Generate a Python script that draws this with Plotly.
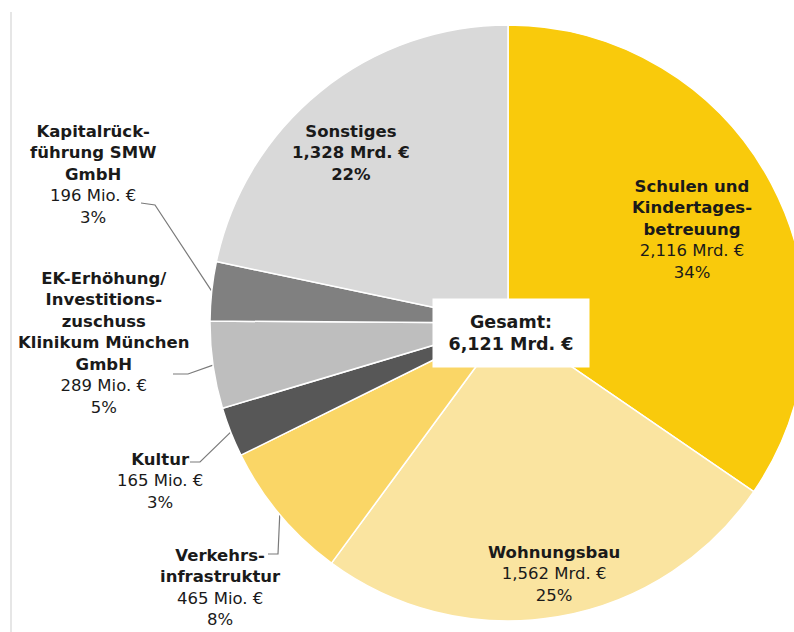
import math
import plotly.graph_objects as go

# ---------------- data ----------------
labels = ["Schulen und Kindertagesbetreuung", "Wohnungsbau", "Verkehrsinfrastruktur",
          "Kultur", "EK-Erhöhung/Investitionszuschuss Klinikum München GmbH",
          "Kapitalrückführung SMW GmbH", "Sonstiges"]
label_lines = ["Schulen und<br>Kindertages-<br>betreuung", "Wohnungsbau", "Verkehrs-<br>infrastruktur",
               "Kultur", "EK-Erhöhung/<br>Investitions-<br>zuschuss<br>Klinikum München<br>GmbH",
               "Kapitalrück-<br>führung SMW<br>GmbH", "Sonstiges"]
values_mio = [2116, 1562, 465, 165, 289, 196, 1328]
percent_labels = ["34%", "25%", "8%", "3%", "5%", "3%", "22%"]
colors = ["#F9CA0C", "#FAE4A0", "#FAD666", "#575757", "#BEBEBE", "#808080", "#D9D9D9"]
total_title = "Gesamt:"

# ---------------- layout geometry ----------------
W, H = 812, 632
CX, CY, R = 508, 323, 298

label_pos = [(692, 229), (554, 574), (220, 587), (160, 481), (104, 343), (93, 174), (351, 153)]
label_bold_value = [False, False, False, False, False, False, True]
# leader lines: (start, elbow) for outside labels; end is computed on the pie edge
leaders = {2: ((268, 554), (278, 554)),
           3: ((190, 462), (200, 462)),
           4: ((173, 374), (188, 374)),
           5: ((141, 203), (155, 205))}


def fmt_value(v):
    if v >= 1000:
        return f"{v / 1000:.3f}".replace(".", ",") + " Mrd. €"
    return f"{v} Mio. €"


total = sum(values_mio)

fig = go.Figure()
fig.add_trace(go.Pie(
    labels=labels, values=values_mio, sort=False, direction="clockwise", rotation=0,
    marker=dict(colors=colors, line=dict(color="white", width=1.5)),
    textinfo="none", hoverinfo="label+value", showlegend=False,
    domain=dict(x=[(CX - R) / W, (CX + R) / W], y=[(H - CY - R) / H, (H - CY + R) / H]),
))

# leader lines computed from slice mid angles
cum = 0
for i, v in enumerate(values_mio):
    mid = (cum + v / 2) / total * 2 * math.pi
    cum += v
    if i in leaders:
        (sx, sy), (ex, ey) = leaders[i]
        px = CX + R * math.sin(mid)
        py = CY - R * math.cos(mid)
        fig.add_trace(go.Scatter(x=[sx, ex, px], y=[sy, ey, py], mode="lines",
                                 line=dict(color="#7A7A7A", width=1.2),
                                 hoverinfo="skip", showlegend=False))

font_family = "DejaVu Sans"
annotations = []
for i, (name, v, pct) in enumerate(zip(label_lines, values_mio, percent_labels)):
    if label_bold_value[i]:
        txt = f"<b>{name}<br>{fmt_value(v)}<br>{pct}</b>"
    else:
        txt = f"<b>{name}</b><br>{fmt_value(v)}<br>{pct}"
    x, y = label_pos[i]
    annotations.append(dict(x=x, y=y, xref="x", yref="y", text=txt, showarrow=False,
                            align="center", xanchor="center", yanchor="middle",
                            font=dict(family=font_family, size=16.5, color="#1A1A1A")))

annotations.append(dict(x=511, y=333, xref="x", yref="y",
                        text=f"<b>{total_title}<br>{fmt_value(total)}</b>",
                        showarrow=False, align="center", xanchor="center", yanchor="middle",
                        width=148, height=60, borderpad=4, bgcolor="white",
                        font=dict(family=font_family, size=17.5, color="#1A1A1A")))

fig.update_layout(
    width=W, height=H, margin=dict(l=0, r=0, t=0, b=0),
    paper_bgcolor="white", plot_bgcolor="white",
    xaxis=dict(range=[0, W], visible=False, fixedrange=True),
    yaxis=dict(range=[H, 0], visible=False, fixedrange=True),
    annotations=annotations,
    shapes=[dict(type="line", xref="x", yref="y", x0=11, y0=12, x1=11, y1=H,
                 line=dict(color="#E6E6E6", width=2))],
)

fig.write_html("out.html", config={"displayModeBar": False},
               post_script="document.body.style.margin='0';document.body.style.overflow='hidden';")
